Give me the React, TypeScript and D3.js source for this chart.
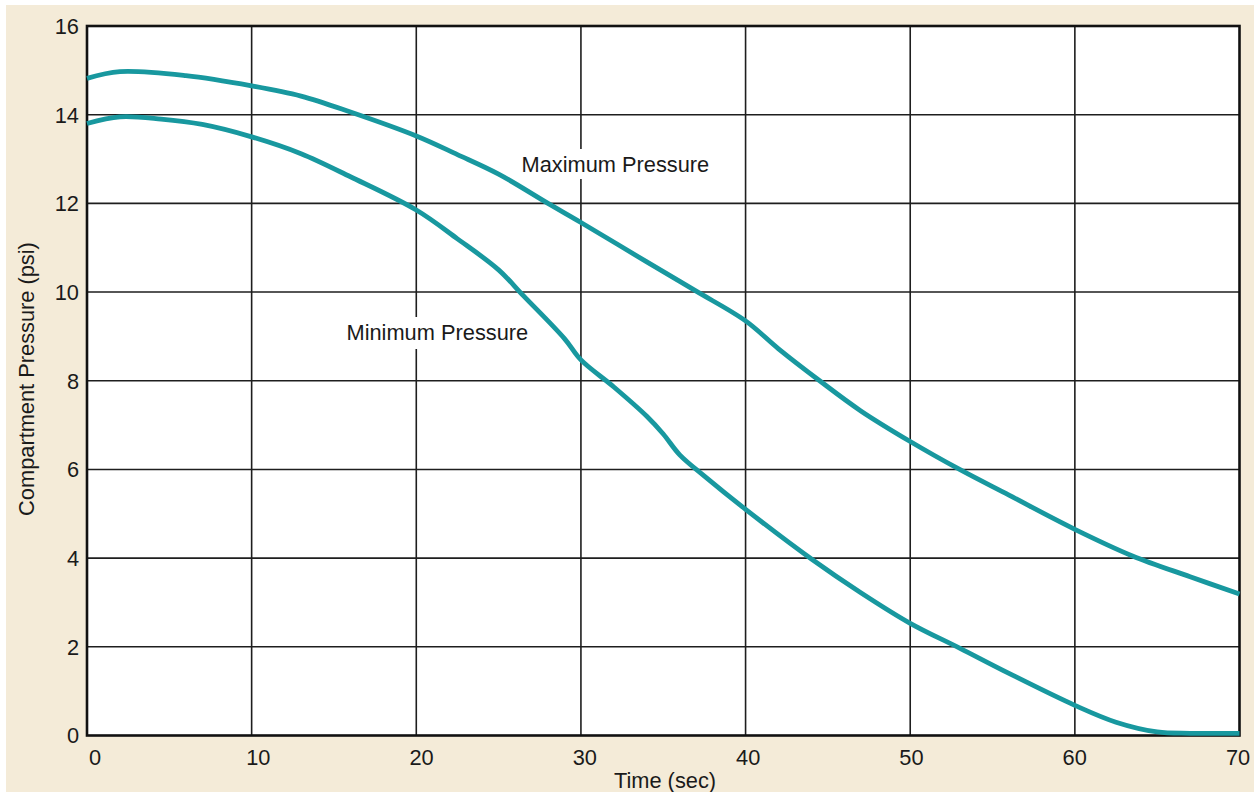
import React from "react";
import * as d3 from "d3";

const maxTime = [0, 2, 6, 10, 13, 16, 20, 22.5, 25, 28, 30, 34, 37, 40, 42, 44.5, 47, 50, 53, 56, 60, 63.5, 67, 70];
const maxPressure = [14.82, 14.97, 14.88, 14.65, 14.42, 14.06, 13.52, 13.1, 12.66, 12.0, 11.57, 10.68, 10.02, 9.35, 8.72, 8.0, 7.32, 6.63, 6.0, 5.42, 4.65, 4.05, 3.58, 3.19];

const minTime = [0, 2, 4.5, 7, 10, 13, 16, 20, 22.5, 25, 26.5, 29, 30, 32, 34, 35, 36, 37.5, 40, 44, 47, 50, 53, 56, 60, 62.5, 65, 67, 70];
const minPressure = [13.8, 13.95, 13.9, 13.78, 13.5, 13.12, 12.6, 11.85, 11.2, 10.5, 9.92, 8.95, 8.47, 7.86, 7.2, 6.8, 6.33, 5.85, 5.1, 3.98, 3.22, 2.53, 1.97, 1.4, 0.68, 0.3, 0.08, 0.05, 0.05];

const xTicks = [0, 10, 20, 30, 40, 50, 60, 70];
const yTicks = [0, 2, 4, 6, 8, 10, 12, 14, 16];

const xTitle = "Time (sec)";
const yTitle = "Compartment Pressure (psi)";
const maxLabel = "Maximum Pressure";
const minLabel = "Minimum Pressure";

const W = 1254;
const H = 792;
const FONT = "'Liberation Sans', Arial, Helvetica, sans-serif";
const TEAL = "#18989f";
const FS = 21.8;

export default function App() {
  const x = d3.scaleLinear().domain([0, 70]).range([87, 1239.5]);
  const xLab = d3.scaleLinear().domain([0, 70]).range([95, 1238]);
  const y = d3.scaleLinear().domain([0, 16]).range([735.5, 26]);

  const line = d3
    .line<[number, number]>()
    .x((d) => x(d[0]))
    .y((d) => y(d[1]))
    .curve(d3.curveCatmullRom.alpha(0.5));

  const maxPts: [number, number][] = maxTime.map((t, i) => [t, maxPressure[i]]);
  const minPts: [number, number][] = minTime.map((t, i) => [t, minPressure[i]]);

  return (
    <svg
      width={W}
      height={H}
      style={{ position: "absolute", left: 0, top: 0, display: "block" }}
      fontFamily={FONT}
    >
      <rect x={0} y={0} width={W} height={H} fill="#ffffff" />
      <rect x={6} y={5} width={W - 6} height={H - 5} fill="#f4ebd8" />
      <rect x={x(0)} y={y(16)} width={x(70) - x(0)} height={y(0) - y(16)} fill="#ffffff" />

      {xTicks.slice(1, -1).map((t) => (
        <line key={"gx" + t} x1={x(t)} x2={x(t)} y1={y(0)} y2={y(16)} stroke="#1e1e1e" strokeWidth={1.6} />
      ))}
      {yTicks.slice(1, -1).map((v) => (
        <line key={"gy" + v} x1={x(0)} x2={x(70)} y1={y(v)} y2={y(v)} stroke="#1e1e1e" strokeWidth={1.6} />
      ))}

      <rect x={x(0)} y={y(16)} width={x(70) - x(0)} height={y(0) - y(16)} fill="none" stroke="#111" strokeWidth={2.6} />

      {/* label backgrounds */}
      <rect x={518} y={149} width={192} height={30} fill="#ffffff" />
      <rect x={343} y={317} width={186} height={32} fill="#ffffff" />

      <path d={line(maxPts) ?? ""} fill="none" stroke={TEAL} strokeWidth={4.8} strokeLinejoin="round" />
      <path d={line(minPts) ?? ""} fill="none" stroke={TEAL} strokeWidth={4.8} strokeLinejoin="round" />

      <text x={521.5} y={171.5} fontSize={FS} fill="#1a1a1a">{maxLabel}</text>
      <text x={346.5} y={340} fontSize={FS} fill="#1a1a1a">{minLabel}</text>

      {yTicks.map((v) => (
        <text key={"ty" + v} x={79} y={y(v)} dy="0.36em" textAnchor="end" fontSize={FS} fill="#1a1a1a">
          {v}
        </text>
      ))}
      {xTicks.map((t) => (
        <text key={"tx" + t} x={xLab(t)} y={764.5} textAnchor="middle" fontSize={FS} fill="#1a1a1a">
          {t}
        </text>
      ))}

      <text x={665} y={787.5} textAnchor="middle" fontSize={FS} fill="#1a1a1a">{xTitle}</text>
      <text
        transform={`translate(33.5, 379) rotate(-90)`}
        textAnchor="middle"
        fontSize={FS}
        fill="#1a1a1a"
      >
        {yTitle}
      </text>
    </svg>
  );
}
